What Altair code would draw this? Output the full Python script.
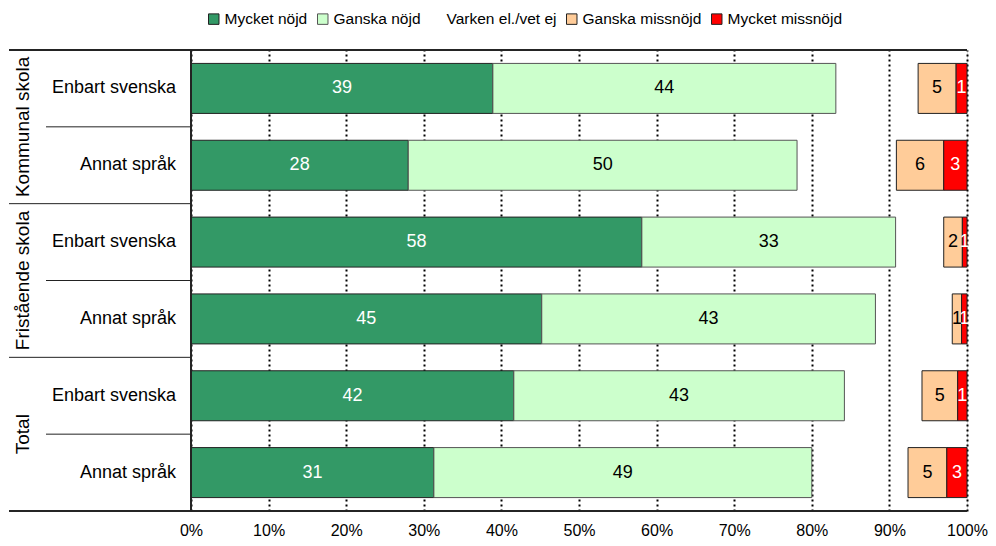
import altair as alt
import pandas as pd

groups = ["Kommunal skola", "Kommunal skola", "Fristående skola", "Fristående skola", "Total", "Total"]
subs = ["Enbart svenska", "Annat språk", "Enbart svenska", "Annat språk", "Enbart svenska", "Annat språk"]
categories = ["Mycket nöjd", "Ganska nöjd", "Varken el./vet ej", "Ganska missnöjd", "Mycket missnöjd"]
mycket_nojd = [38.9, 28.0, 58.1, 45.2, 41.6, 31.3]
ganska_nojd = [44.2, 50.1, 32.7, 43.0, 42.6, 48.7]
varken = [10.6, 12.8, 6.2, 9.9, 10.0, 12.4]
ganska_missnojd = [4.9, 6.1, 2.4, 1.2, 4.6, 5.0]
mycket_missnojd = [1.4, 3.0, 0.6, 0.7, 1.2, 2.6]
x_ticks = [0, 10, 20, 30, 40, 50, 60, 70, 80, 90, 100]

fills = ["#339966", "#CCFFCC", "transparent", "#FFCC99", "#FF0000"]
strokes = ["#222222", "#555555", "transparent", "#222222", "#222222"]
text_colors = ["white", "black", "none", "black", "white"]

series = [mycket_nojd, ganska_nojd, varken, ganska_missnojd, mycket_missnojd]
rows = [f"{g}|{s}" for g, s in zip(groups, subs)]

records = []
for i, r in enumerate(rows):
    start = 0.0
    for k, cat in enumerate(categories):
        v = series[k][i]
        records.append(dict(row=r, group=groups[i], sub=subs[i], cat=cat, ord=k,
                            value=v, start=start, end=start + v, mid=start + v / 2,
                            tcol=text_colors[k]))
        start += v
df = pd.DataFrame(records)

rows_df = pd.DataFrame({"row": rows, "group": groups, "sub": subs,
                        "first": [i % 2 == 0 for i in range(len(rows))]})
first_df = rows_df[rows_df["first"]]

W, H = 776, 461
FONT = "Liberation Sans"

yenc = alt.Y("row:N", sort=rows, axis=None,
             scale=alt.Scale(paddingInner=0, paddingOuter=0))

legend = alt.Legend(orient="none", legendX=15, legendY=-39, direction="horizontal",
                    title=None, labelFontSize=15.5, labelFont=FONT, symbolType="square",
                    symbolSize=110, symbolStrokeWidth=1, columnPadding=7,
                    labelOffset=3, labelColor="black")

bars = alt.Chart(df).mark_bar(size=50, strokeWidth=1).encode(
    x=alt.X("start:Q", scale=alt.Scale(domain=[0, 100], nice=False),
            axis=alt.Axis(values=x_ticks, labelExpr="datum.value + '%'", title=None,
                          grid=True, gridDash=[2, 3], gridColor="black", gridWidth=2,
                          ticks=False, labelPadding=11, labelFontSize=16, labelFont=FONT,
                          labelColor="black", domain=False, labelFlush=False)),
    x2="end:Q",
    y=yenc,
    color=alt.Color("cat:N", scale=alt.Scale(domain=categories, range=fills), legend=legend),
    stroke=alt.Stroke("cat:N", scale=alt.Scale(domain=categories, range=strokes), legend=legend),
)

lab_white = alt.Chart(df).transform_filter("datum.tcol == 'white'").mark_text(
    fontSize=18, font=FONT, color="white", baseline="middle").encode(
    x="mid:Q", y=yenc, text=alt.Text("value:Q", format=".0f"))
lab_black = alt.Chart(df).transform_filter("datum.tcol == 'black'").mark_text(
    fontSize=18, font=FONT, color="black", baseline="middle").encode(
    x="mid:Q", y=yenc, text=alt.Text("value:Q", format=".0f"))

sub_labels = alt.Chart(rows_df).mark_text(fontSize=18, font=FONT, align="right",
                                          baseline="middle", color="black").encode(
    x=alt.value(-15), y=yenc, text="sub:N")

yband1 = alt.Y("row:N", sort=rows, axis=None, bandPosition=1,
               scale=alt.Scale(paddingInner=0, paddingOuter=0))
yband0 = alt.Y("row:N", sort=rows, axis=None, bandPosition=0,
               scale=alt.Scale(paddingInner=0, paddingOuter=0))

group_labels = alt.Chart(first_df).mark_text(fontSize=19, font=FONT, angle=270,
                                             align="center", baseline="middle",
                                             color="black").encode(
    x=alt.value(-168), y=yband1, text="group:N")

sub_sep = alt.Chart(first_df).mark_rule(color="#222222", strokeWidth=1).encode(
    y=yband1, x=alt.value(-145), x2=alt.value(0))
grp_sep = alt.Chart(first_df).mark_rule(color="#222222", strokeWidth=1).encode(
    y=yband0, x=alt.value(-182), x2=alt.value(0))

top_line = alt.Chart(rows_df).mark_rule(color="#222222", strokeWidth=1).encode(
    y=alt.value(0), x=alt.value(-182), x2=alt.value(W))
bottom_line = alt.Chart(rows_df).mark_rule(color="#222222", strokeWidth=1).encode(
    y=alt.value(H), x=alt.value(-182), x2=alt.value(W))
left_line = alt.Chart(rows_df).mark_rule(color="#222222", strokeWidth=1).encode(
    x=alt.value(0), y=alt.value(0), y2=alt.value(H))

chart = alt.layer(
    bars, lab_white, lab_black, sub_labels, group_labels,
    sub_sep, grp_sep, top_line, bottom_line, left_line
).properties(
    width=W, height=H, padding={"left": 0, "top": 3, "right": 0, "bottom": 0}
).configure_view(stroke=None).configure(font=FONT)

chart.save("out.html", embed_options={"renderer": "svg", "actions": False})
